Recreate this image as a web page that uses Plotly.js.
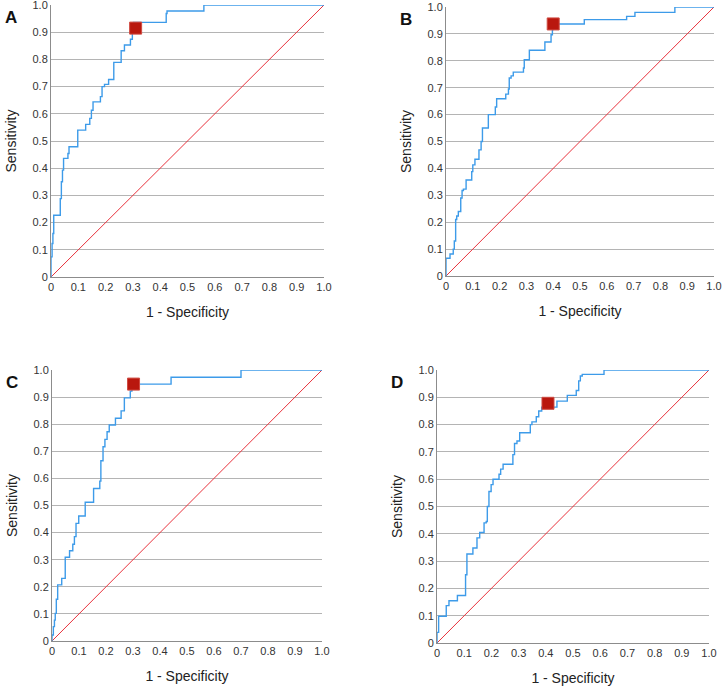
<!DOCTYPE html>
<html>
<head>
<meta charset="utf-8">
<script src="https://cdn.plot.ly/plotly-3.0.1.min.js"></script>
<style>
  html, body { margin: 0; padding: 0; background: #fff; }
  #roc-plot { width: 724px; height: 686px; }
</style>
</head>
<body>
<div id="roc-plot"></div>
<script>
// ROC staircases: x = 1 - specificity, y = sensitivity
// each point = where the curve steps up (drawn with shape 'hv')
const fprA = [0, 0, 0.004, 0.007, 0.010, 0.034, 0.038, 0.042, 0.046, 0.062, 0.066, 0.098, 0.127, 0.142, 0.148, 0.154, 0.181, 0.187, 0.196, 0.211, 0.230, 0.257, 0.269, 0.291, 0.298, 0.302, 0.422, 0.425, 0.560, 1];
const tprA = [0, 0.074, 0.123, 0.160, 0.227, 0.288, 0.350, 0.393, 0.436, 0.454, 0.479, 0.540, 0.561, 0.583, 0.613, 0.644, 0.663, 0.700, 0.708, 0.726, 0.789, 0.832, 0.853, 0.874, 0.900, 0.936, 0.969, 0.978, 1, 1];

const fprB = [0, 0, 0.015, 0.027, 0.031, 0.036, 0.040, 0.046, 0.055, 0.060, 0.065, 0.075, 0.096, 0.100, 0.108, 0.123, 0.131, 0.136, 0.158, 0.184, 0.189, 0.223, 0.233, 0.236, 0.243, 0.251, 0.289, 0.292, 0.311, 0.369, 0.392, 0.397, 0.400, 0.516, 0.674, 0.705, 0.854, 1];
const tprB = [0, 0.066, 0.082, 0.100, 0.130, 0.210, 0.223, 0.240, 0.290, 0.318, 0.323, 0.357, 0.388, 0.413, 0.434, 0.469, 0.500, 0.550, 0.600, 0.628, 0.659, 0.676, 0.695, 0.736, 0.744, 0.758, 0.773, 0.804, 0.839, 0.870, 0.897, 0.916, 0.937, 0.953, 0.965, 0.980, 1, 1];

const fprC = [0, 0, 0.005, 0.009, 0.012, 0.016, 0.021, 0.036, 0.049, 0.065, 0.077, 0.083, 0.089, 0.099, 0.123, 0.154, 0.177, 0.181, 0.189, 0.196, 0.204, 0.212, 0.235, 0.256, 0.268, 0.290, 0.296, 0.441, 0.700, 1];
const tprC = [0, 0.022, 0.053, 0.077, 0.102, 0.154, 0.207, 0.231, 0.309, 0.333, 0.357, 0.385, 0.434, 0.461, 0.512, 0.563, 0.590, 0.665, 0.717, 0.744, 0.772, 0.797, 0.822, 0.849, 0.897, 0.922, 0.948, 0.973, 1, 1];

const fprD = [0, 0, 0.006, 0.034, 0.044, 0.075, 0.105, 0.110, 0.132, 0.147, 0.157, 0.173, 0.181, 0.185, 0.191, 0.199, 0.206, 0.228, 0.234, 0.243, 0.279, 0.285, 0.294, 0.304, 0.343, 0.349, 0.365, 0.374, 0.385, 0.441, 0.479, 0.512, 0.521, 0.527, 0.534, 0.614, 1];
const tprD = [0, 0.039, 0.098, 0.137, 0.155, 0.174, 0.250, 0.326, 0.348, 0.385, 0.405, 0.440, 0.445, 0.500, 0.555, 0.580, 0.600, 0.618, 0.637, 0.655, 0.690, 0.731, 0.740, 0.770, 0.800, 0.810, 0.829, 0.850, 0.864, 0.886, 0.907, 0.925, 0.960, 0.978, 0.984, 1, 1];

// optimal cut-off points (red squares)
const cutFpr = [0.310, 0.400, 0.302, 0.408];
const cutTpr = [0.915, 0.937, 0.948, 0.878];

// reference line
const diagX = [0, 1];
const diagY = [0, 1];

const panelLetters = ['A', 'B', 'C', 'D'];
const tickVals = [0, 0.1, 0.2, 0.3, 0.4, 0.5, 0.6, 0.7, 0.8, 0.9, 1];
const tickText = ['0', '0.1', '0.2', '0.3', '0.4', '0.5', '0.6', '0.7', '0.8', '0.9', '1.0'];

const curves = [[fprA, tprA], [fprB, tprB], [fprC, tprC], [fprD, tprD]];

// plot areas in page pixels: [left, right, top, bottom]
const boxes = [
  [51, 324, 5, 277],
  [446, 714, 7, 276],
  [52, 322, 370, 641],
  [437, 709, 370, 643]
];

const W = 724;
const H = 686;

const initPlot = () => {
  const data = [];
  const layout = {
    width: W,
    height: H,
    margin: { l: 0, r: 0, t: 0, b: 0 },
    paper_bgcolor: '#fff',
    plot_bgcolor: '#fff',
    showlegend: false,
    font: { family: 'Liberation Sans, Arial, sans-serif', color: '#222' },
    annotations: []
  };

  curves.forEach((c, i) => {
    const n = i === 0 ? '' : String(i + 1);
    const xa = 'x' + n;
    const ya = 'y' + n;

    data.push({
      type: 'scatter',
      name: 'reference ' + panelLetters[i],
      x: diagX, y: diagY, xaxis: xa, yaxis: ya,
      mode: 'lines', line: { color: 'rgb(232,50,60)', width: 1 }
    });
    data.push({
      type: 'scatter',
      name: 'ROC ' + panelLetters[i],
      x: c[0], y: c[1], xaxis: xa, yaxis: ya,
      mode: 'lines', line: { color: 'rgb(61,155,233)', width: 1.4, shape: 'hv' }
    });
    data.push({
      type: 'scatter',
      name: 'cut-off ' + panelLetters[i],
      x: [cutFpr[i]], y: [cutTpr[i]], xaxis: xa, yaxis: ya,
      mode: 'markers', cliponaxis: false,
      marker: { symbol: 'square', size: 12, color: 'rgb(185,23,14)', line: { color: 'rgb(207,74,64)', width: 1 } }
    });

    const b = boxes[i];
    layout['xaxis' + n] = {
      domain: [b[0] / W, b[1] / W],
      anchor: ya,
      range: [0, 1],
      tickvals: tickVals,
      ticktext: tickText,
      showgrid: false,
      zeroline: false,
      showline: true,
      linecolor: '#8c8c8c',
      linewidth: 1,
      ticks: '',
      ticklabeloverflow: 'allow',
      tickfont: { size: 11, color: '#333' },
      title: { text: '1 - Specificity', font: { size: 14, color: '#222' }, standoff: 14 }
    };
    layout['yaxis' + n] = {
      domain: [1 - b[3] / H, 1 - b[2] / H],
      anchor: xa,
      range: [0, 1],
      tickvals: tickVals,
      ticktext: tickText,
      showgrid: true,
      gridcolor: '#b4b4b4',
      gridwidth: 1,
      zeroline: false,
      showline: true,
      linecolor: '#8c8c8c',
      linewidth: 1,
      ticks: '',
      ticklabeloverflow: 'allow',
      tickfont: { size: 11, color: '#333' },
      title: { text: 'Sensitivity', font: { size: 14, color: '#222' }, standoff: 12 }
    };

    layout.annotations.push({
      text: '<b>' + panelLetters[i] + '</b>',
      xref: 'paper', yref: 'paper',
      x: (b[0] - 48) / W, y: 1 - (b[2] + 1) / H,
      xanchor: 'left', yanchor: 'top',
      showarrow: false,
      font: { size: 17, color: '#111' }
    });
  });

  const config = { responsive: false, displayModeBar: false };

  Plotly.newPlot('roc-plot', data, layout, config);
};

initPlot();
</script>
</body>
</html>
